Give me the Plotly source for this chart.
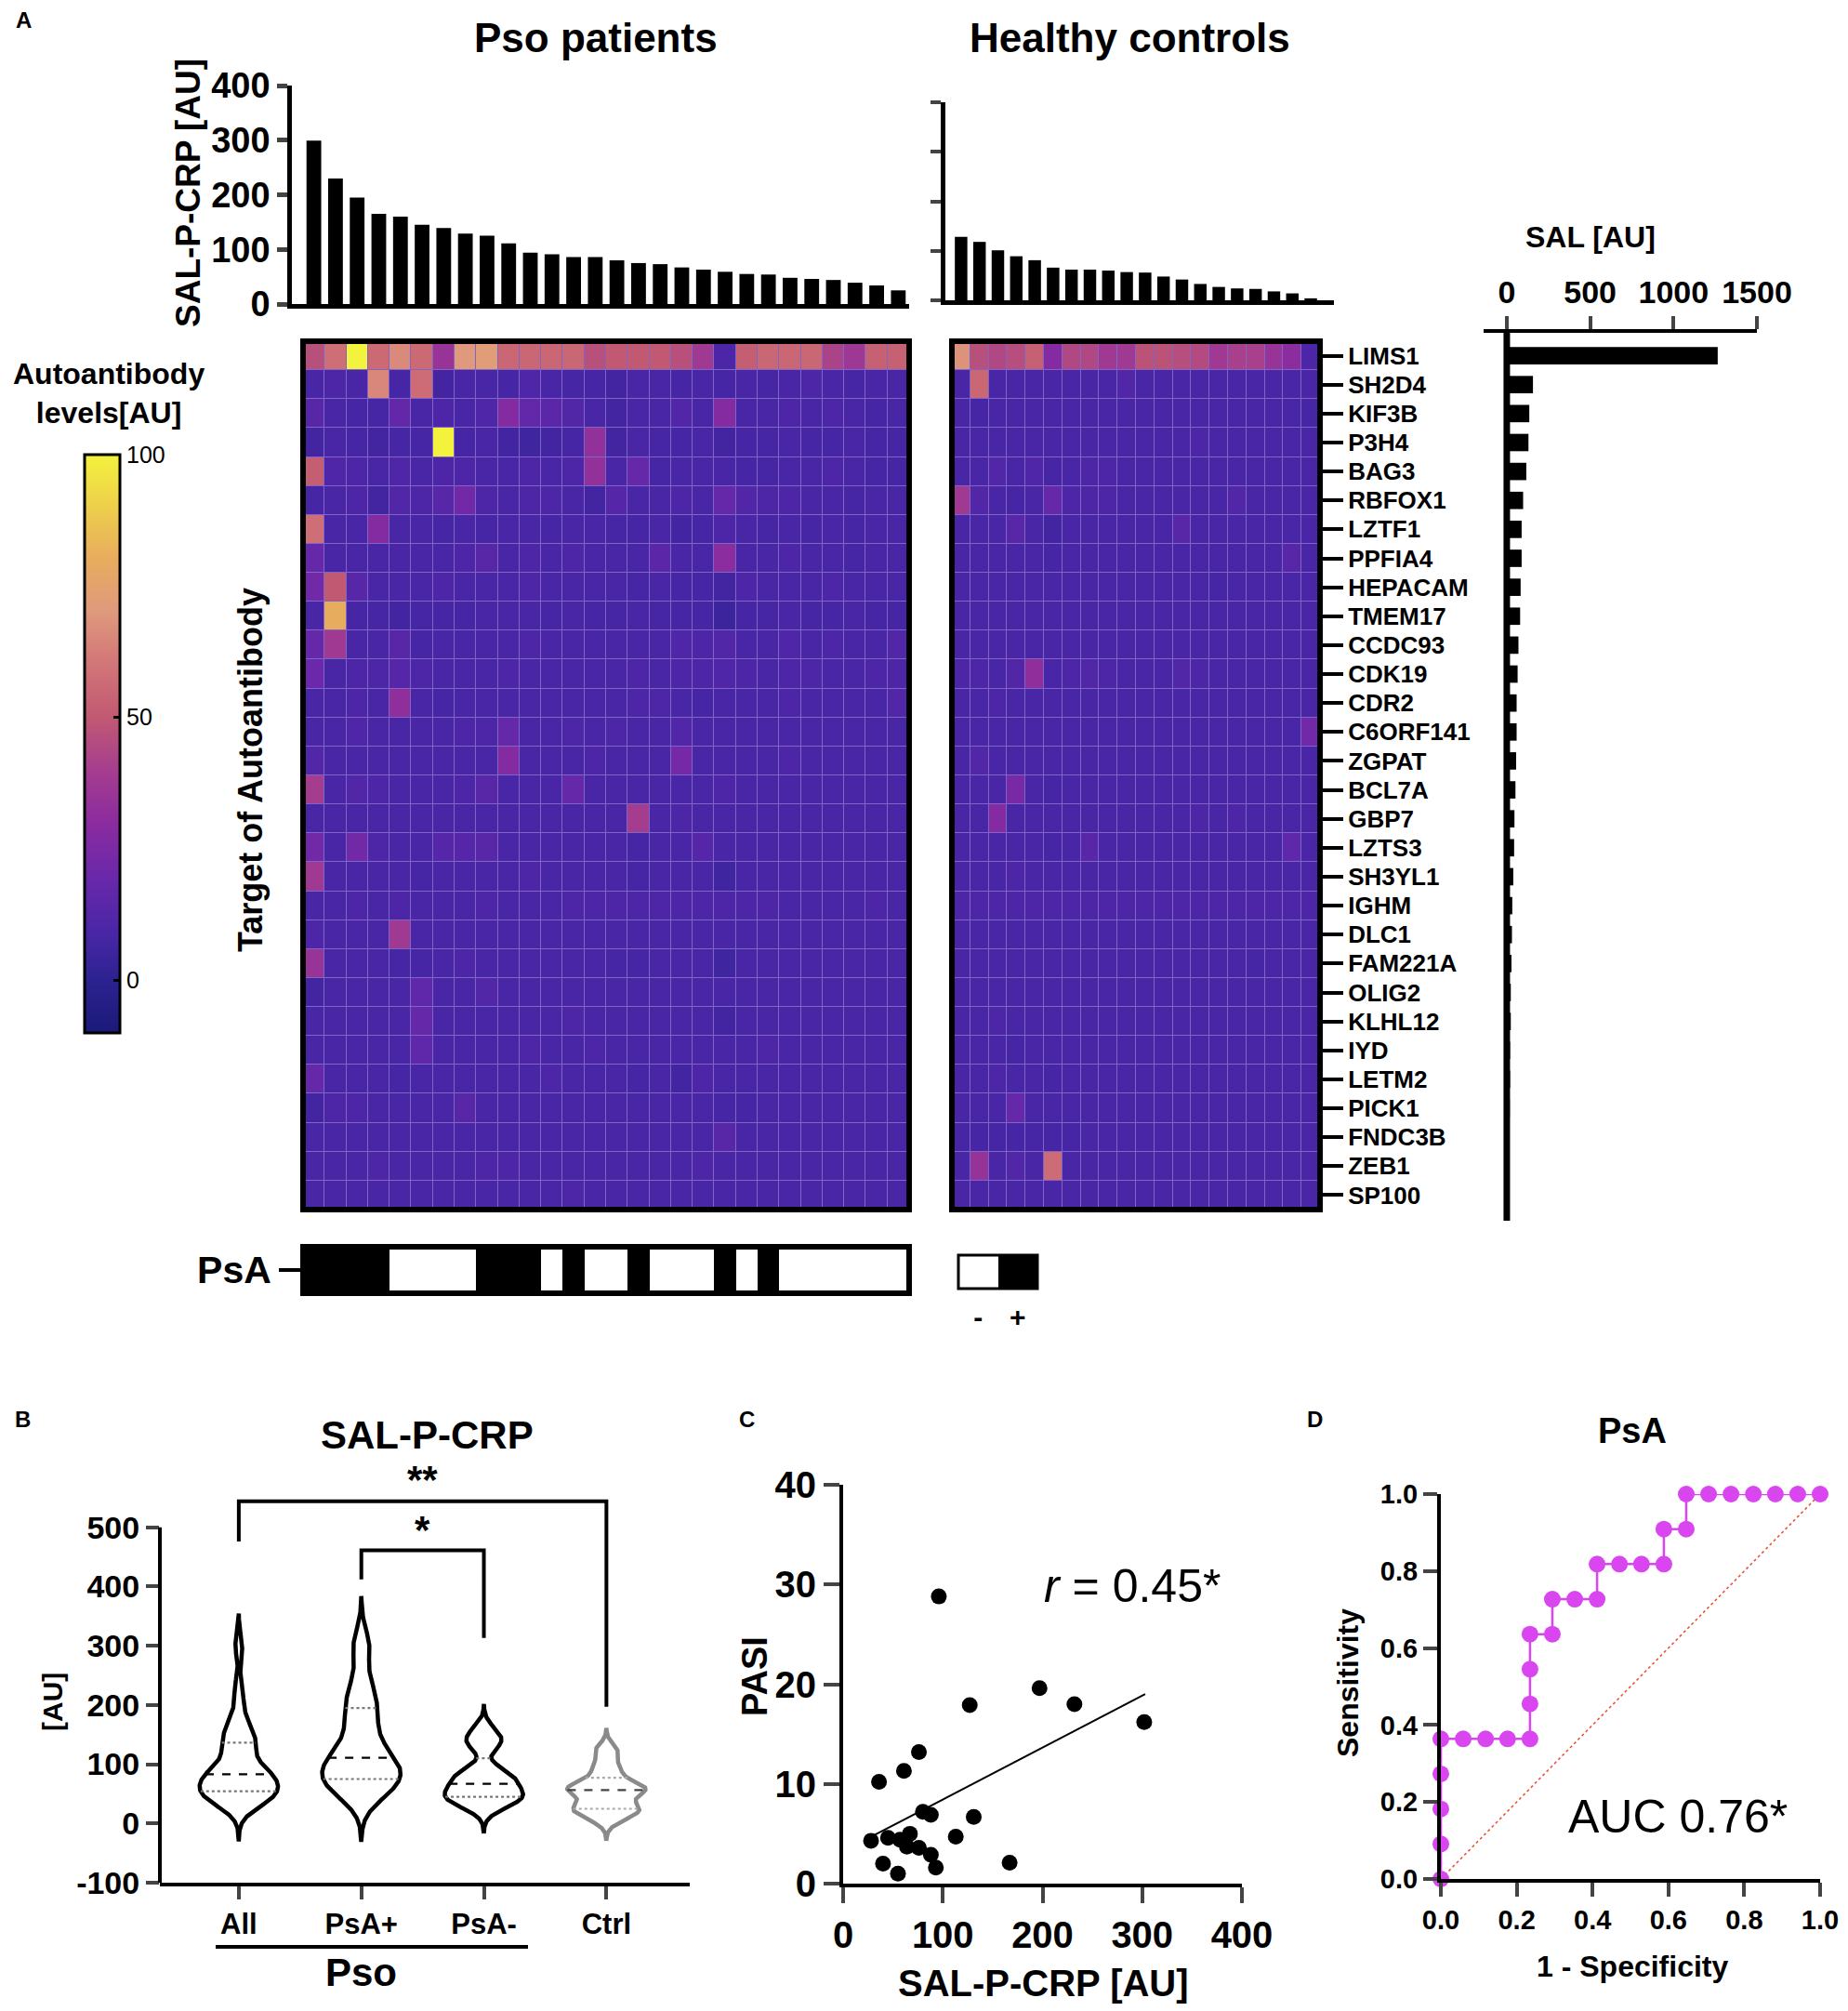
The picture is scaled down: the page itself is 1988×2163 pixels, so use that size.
import numpy as np
import plotly.graph_objects as go

# the page body keeps its default 8px margin, so the figure is drawn 16px smaller
# and every position below is given in page pixels, shifted by OFF
PAGE_W, PAGE_H = 1988, 2163
OFF = 8
W, H = PAGE_W - 2 * OFF, PAGE_H - 2 * OFF
FONT = "Liberation Sans, Arial, Helvetica, sans-serif"

genes = ["LIMS1", "SH2D4", "KIF3B", "P3H4", "BAG3", "RBFOX1", "LZTF1", "PPFIA4",
         "HEPACAM", "TMEM17", "CCDC93", "CDK19", "CDR2", "C6ORF141", "ZGPAT", "BCL7A",
         "GBP7", "LZTS3", "SH3YL1", "IGHM", "DLC1", "FAM221A", "OLIG2", "KLHL12", "IYD",
         "LETM2", "PICK1", "FNDC3B", "ZEB1", "SP100"]

# SAL-P-CRP per subject (sorted as in the heatmap columns)
pso_crp = [299, 230, 195, 165, 160, 145, 139, 129, 125, 111, 94, 91, 86, 86, 80, 75, 73,
           67, 63, 59, 55, 54, 48, 46, 44, 39, 34, 25]
ctrl_crp = [128, 118, 101, 89, 81, 66, 62, 62, 60, 57, 56, 48, 42, 33, 27, 24, 23, 18, 14, 4]
psa_status = [1, 1, 1, 1, 0, 0, 0, 0, 1, 1, 1, 0, 1, 0, 0, 1, 0, 0, 0, 1, 0, 1, 0, 0, 0, 0, 0, 0]

# summed autoantibody level per target
sal = [1265, 157, 135, 130, 117, 98, 89, 89, 83, 80, 70, 65, 59, 59, 56, 52, 46, 44, 39, 33,
       31, 28, 24, 24, 20, 20, 18, 17, 15, 15]

pso_levels = [
    [47, 58, 100, 56, 66, 56, 35, 70, 72, 55, 55, 55, 55, 47, 50, 50, 50, 47, 38, 10, 52, 55, 55, 55, 42, 37, 53, 53],
    [9, 10, 9, 65, 8, 57, 7, 9, 9, 8, 11, 9, 8, 8, 7, 9, 9, 8, 9, 8, 9, 8, 9, 10, 9, 8, 9, 9],
    [14, 9, 8, 8, 17, 9, 10, 9, 11, 28, 17, 15, 12, 9, 7, 9, 9, 12, 9, 28, 9, 9, 10, 9, 10, 9, 8, 9],
    [7, 9, 8, 7, 8, 8, 100, 8, 9, 7, 6, 7, 8, 33, 7, 9, 8, 8, 9, 7, 8, 8, 9, 8, 8, 9, 8, 8],
    [52, 11, 10, 9, 11, 9, 10, 10, 9, 9, 10, 9, 10, 33, 9, 18, 8, 9, 9, 9, 8, 8, 9, 9, 10, 9, 8, 8],
    [8, 9, 10, 7, 12, 10, 14, 22, 10, 9, 10, 10, 9, 7, 13, 9, 9, 10, 9, 18, 12, 10, 10, 9, 9, 8, 9, 9],
    [58, 9, 9, 28, 9, 9, 8, 9, 8, 9, 9, 8, 9, 9, 8, 8, 9, 7, 8, 10, 9, 8, 9, 8, 9, 8, 9, 9],
    [18, 9, 9, 9, 9, 9, 9, 10, 14, 9, 10, 9, 10, 9, 9, 9, 15, 9, 9, 30, 9, 9, 10, 9, 9, 8, 9, 9],
    [22, 50, 14, 9, 9, 9, 10, 9, 9, 9, 10, 9, 9, 9, 9, 8, 9, 8, 8, 7, 10, 9, 9, 9, 10, 9, 9, 9],
    [9, 80, 8, 8, 7, 8, 8, 8, 9, 9, 9, 8, 9, 8, 8, 9, 8, 8, 8, 5, 8, 8, 9, 8, 8, 9, 8, 8],
    [18, 38, 9, 9, 14, 8, 9, 9, 9, 9, 10, 9, 9, 9, 9, 9, 9, 11, 10, 12, 9, 9, 11, 9, 10, 9, 9, 12],
    [20, 9, 10, 10, 13, 10, 9, 9, 9, 10, 9, 9, 9, 9, 9, 10, 9, 10, 10, 11, 10, 9, 10, 10, 9, 9, 10, 10],
    [9, 9, 10, 9, 32, 9, 8, 9, 9, 9, 9, 9, 9, 9, 9, 10, 10, 9, 8, 9, 9, 9, 10, 9, 9, 9, 9, 12],
    [9, 9, 11, 9, 9, 9, 9, 10, 10, 18, 9, 9, 10, 9, 10, 9, 9, 12, 9, 9, 9, 9, 9, 9, 9, 9, 9, 9],
    [12, 9, 9, 9, 9, 9, 9, 9, 9, 28, 9, 9, 9, 10, 9, 9, 9, 23, 9, 9, 9, 9, 10, 9, 9, 9, 9, 9],
    [40, 9, 12, 10, 9, 9, 9, 10, 14, 9, 9, 9, 18, 9, 9, 9, 9, 9, 9, 10, 9, 9, 9, 9, 9, 9, 9, 9],
    [9, 9, 9, 9, 9, 9, 9, 9, 9, 9, 9, 9, 9, 9, 9, 40, 9, 10, 9, 9, 9, 9, 9, 9, 9, 9, 9, 9],
    [22, 9, 22, 10, 9, 9, 13, 13, 14, 9, 9, 9, 9, 9, 9, 8, 9, 9, 13, 9, 9, 9, 9, 9, 9, 9, 9, 9],
    [38, 9, 9, 9, 9, 8, 9, 9, 9, 9, 10, 9, 9, 9, 9, 8, 9, 9, 9, 6, 9, 9, 9, 9, 9, 9, 9, 9],
    [9, 9, 10, 9, 10, 9, 9, 9, 10, 9, 9, 9, 10, 10, 10, 10, 10, 10, 10, 10, 10, 10, 9, 9, 9, 9, 10, 9],
    [10, 9, 9, 9, 38, 9, 9, 9, 9, 9, 9, 9, 9, 9, 9, 9, 9, 9, 9, 9, 9, 9, 9, 9, 9, 9, 9, 9],
    [35, 9, 9, 9, 8, 8, 9, 10, 9, 9, 9, 9, 9, 9, 8, 8, 9, 9, 9, 6, 9, 9, 9, 9, 9, 9, 9, 9],
    [7, 9, 9, 9, 9, 16, 9, 9, 12, 9, 9, 9, 9, 9, 9, 9, 9, 9, 9, 9, 9, 9, 9, 9, 9, 9, 9, 9],
    [9, 9, 9, 9, 9, 18, 9, 9, 9, 9, 9, 9, 10, 9, 9, 9, 9, 9, 9, 7, 9, 9, 9, 9, 9, 9, 9, 9],
    [9, 9, 9, 9, 9, 16, 9, 9, 9, 9, 10, 9, 9, 10, 9, 9, 9, 9, 9, 9, 9, 10, 9, 9, 9, 9, 9, 9],
    [18, 9, 9, 9, 8, 9, 9, 9, 9, 9, 9, 10, 9, 9, 9, 8, 9, 7, 10, 9, 9, 9, 9, 9, 9, 9, 9, 9],
    [7, 10, 10, 9, 9, 9, 9, 14, 9, 9, 9, 9, 9, 9, 9, 9, 9, 9, 9, 8, 8, 9, 9, 9, 9, 9, 9, 9],
    [9, 9, 9, 9, 9, 9, 9, 9, 9, 9, 9, 9, 9, 9, 9, 9, 9, 9, 9, 14, 9, 9, 9, 9, 9, 9, 9, 9],
    [9, 9, 9, 10, 9, 9, 9, 9, 10, 10, 9, 9, 9, 9, 9, 9, 9, 9, 10, 9, 9, 9, 9, 9, 9, 9, 9, 9],
    [9, 9, 9, 9, 9, 9, 9, 9, 9, 9, 9, 9, 10, 9, 9, 9, 9, 9, 9, 9, 9, 9, 9, 9, 9, 9, 9, 9],
]

ctrl_levels = [
    [68, 47, 44, 46, 53, 28, 44, 44, 38, 38, 48, 48, 46, 45, 38, 41, 41, 35, 30, 10],
    [9, 55, 9, 9, 9, 9, 9, 9, 9, 12, 9, 9, 9, 9, 9, 9, 9, 9, 9, 9],
    [9, 8, 9, 9, 9, 9, 9, 9, 9, 9, 9, 9, 9, 9, 9, 9, 9, 9, 9, 8],
    [9, 9, 9, 9, 9, 9, 9, 9, 9, 9, 9, 9, 9, 10, 9, 9, 9, 9, 9, 9],
    [9, 9, 12, 9, 11, 8, 9, 10, 10, 9, 9, 9, 9, 9, 9, 9, 9, 9, 9, 9],
    [38, 12, 9, 8, 9, 18, 10, 10, 10, 9, 9, 9, 9, 9, 9, 12, 9, 9, 9, 9],
    [9, 9, 9, 14, 9, 7, 9, 9, 9, 9, 9, 9, 14, 9, 9, 9, 9, 9, 9, 9],
    [9, 9, 9, 9, 9, 8, 9, 9, 9, 9, 9, 9, 9, 9, 9, 9, 9, 9, 14, 9],
    [9, 9, 9, 9, 9, 9, 9, 9, 9, 9, 9, 9, 9, 9, 8, 9, 9, 9, 9, 9],
    [9, 9, 9, 9, 9, 9, 9, 9, 9, 9, 9, 9, 9, 9, 9, 9, 9, 9, 9, 9],
    [9, 9, 9, 9, 9, 9, 9, 9, 9, 9, 9, 9, 9, 9, 9, 9, 9, 9, 9, 9],
    [10, 10, 9, 12, 32, 9, 10, 12, 10, 9, 9, 9, 12, 10, 9, 9, 9, 9, 9, 9],
    [9, 9, 10, 9, 9, 9, 9, 9, 9, 9, 9, 9, 9, 9, 9, 9, 9, 9, 9, 9],
    [9, 9, 9, 9, 9, 9, 9, 9, 9, 9, 9, 9, 9, 9, 9, 9, 9, 9, 9, 22],
    [9, 12, 9, 9, 9, 9, 9, 9, 9, 9, 9, 9, 9, 9, 9, 9, 9, 9, 9, 9],
    [9, 9, 9, 24, 9, 8, 9, 9, 9, 9, 9, 9, 9, 9, 9, 9, 9, 9, 9, 9],
    [9, 9, 28, 9, 9, 9, 9, 9, 9, 9, 9, 9, 9, 10, 9, 10, 9, 9, 9, 9],
    [9, 9, 9, 9, 9, 8, 9, 14, 9, 9, 9, 9, 9, 9, 9, 9, 9, 9, 16, 9],
    [9, 9, 9, 10, 9, 9, 9, 9, 9, 9, 9, 9, 9, 9, 9, 9, 9, 9, 9, 9],
    [10, 10, 10, 10, 10, 10, 10, 10, 10, 10, 10, 10, 10, 10, 10, 10, 10, 10, 10, 10],
    [9, 9, 9, 9, 9, 9, 9, 9, 9, 9, 9, 9, 9, 9, 9, 9, 9, 9, 9, 9],
    [9, 9, 9, 9, 9, 9, 9, 9, 9, 9, 9, 9, 9, 9, 9, 9, 8, 9, 9, 9],
    [9, 9, 9, 9, 9, 9, 9, 9, 9, 9, 9, 9, 9, 9, 9, 9, 9, 9, 9, 9],
    [9, 9, 10, 9, 9, 9, 9, 9, 9, 9, 9, 9, 9, 9, 9, 9, 9, 9, 9, 9],
    [9, 9, 9, 8, 9, 9, 9, 9, 9, 9, 9, 9, 9, 9, 9, 9, 9, 9, 9, 9],
    [9, 9, 10, 9, 9, 8, 9, 9, 9, 9, 9, 9, 9, 9, 9, 9, 9, 9, 9, 9],
    [9, 9, 9, 18, 9, 9, 9, 9, 9, 9, 9, 9, 9, 9, 9, 9, 9, 9, 9, 9],
    [8, 8, 8, 8, 8, 8, 8, 9, 9, 9, 9, 9, 9, 9, 9, 9, 9, 9, 9, 9],
    [9, 34, 9, 12, 9, 57, 9, 9, 9, 9, 9, 9, 9, 9, 9, 9, 9, 9, 9, 9],
    [9, 9, 9, 9, 9, 9, 9, 9, 9, 9, 9, 9, 9, 9, 9, 9, 9, 9, 9, 9],
]

# panel C
pasi_crp = [96, 36, 61, 76, 127, 197, 232, 302, 80, 88, 131, 28, 45, 57, 67, 64, 76, 88, 93, 113, 40, 55, 167]
pasi = [28.8, 10.2, 11.3, 13.2, 17.9, 19.6, 18.0, 16.2, 7.2, 6.9, 6.7, 4.3, 4.6, 4.4, 5.0, 3.7, 3.6,
        2.9, 1.6, 4.7, 2.0, 1.0, 2.1]
fit_crp = [32, 303]
fit_pasi = [4.9, 19.0]

# panel D
roc_fpr = [0, 0, 0, 0, 0, 0.059, 0.118, 0.176, 0.235, 0.235, 0.235, 0.235, 0.294, 0.294, 0.353,
           0.412, 0.412, 0.471, 0.529, 0.588, 0.588, 0.647, 0.647, 0.706, 0.765, 0.824, 0.882, 0.941, 1.0]
roc_tpr = [0, 0.091, 0.182, 0.273, 0.364, 0.364, 0.364, 0.364, 0.364, 0.455, 0.545, 0.636, 0.636,
           0.727, 0.727, 0.727, 0.818, 0.818, 0.818, 0.818, 0.909, 0.909, 1.0, 1, 1, 1, 1, 1, 1]

# panel B groups
psa_pos = [v for v, s in zip(pso_crp, psa_status) if s == 1]
psa_neg = [v for v, s in zip(pso_crp, psa_status) if s == 0]
groups = [("All", pso_crp, "black"), ("PsA+", psa_pos, "black"),
          ("PsA-", psa_neg, "black"), ("Ctrl", ctrl_crp, "#8a8a8a")]
bracket_pairs = [(0, 3, 476, 544, 197, "**", 580), (1, 2, 412, 461, 313, "*", 495)]


def px_x(a):
    return (a - OFF) / W


def px_y(a):
    return 1 - (a - OFF) / H


def xd(a, b):
    return [px_x(a), px_x(b)]


def yd(top, bottom):
    return [px_y(bottom), px_y(top)]


def bfont(size, color="black"):
    return dict(family=FONT, size=size, color=color, weight="bold")


heat_scale = [
    [0.00, "#1a1a78"], [0.09, "#2c2290"], [0.17, "#4826a6"], [0.27, "#6a28aa"],
    [0.36, "#8a2ba0"], [0.45, "#a43c90"], [0.55, "#c25a72"], [0.64, "#d27678"],
    [0.73, "#df9a7c"], [0.82, "#e8ac5e"], [0.91, "#eecf4c"], [1.00, "#f3f23c"],
]

fig = go.Figure()

# --- panel A: top bars
fig.add_trace(go.Bar(x=list(range(len(pso_crp))), y=pso_crp, marker_color="black",
                     width=0.68, xaxis="x", yaxis="y"))
fig.add_trace(go.Bar(x=list(range(len(ctrl_crp))), y=ctrl_crp, marker_color="black",
                     width=0.68, xaxis="x2", yaxis="y2"))

# --- heatmaps
rows = list(range(len(genes)))
fig.add_trace(go.Heatmap(z=pso_levels, x=list(range(28)), y=rows, coloraxis="coloraxis",
                         xgap=1, ygap=1, xaxis="x3", yaxis="y3", hoverinfo="skip"))
fig.add_trace(go.Heatmap(z=ctrl_levels, x=list(range(20)), y=rows, coloraxis="coloraxis",
                         xgap=1, ygap=1, xaxis="x4", yaxis="y4", hoverinfo="skip"))

# --- SAL bars
fig.add_trace(go.Bar(x=sal, y=rows, orientation="h", marker_color="black", width=0.6,
                     xaxis="x5", yaxis="y5"))

# --- PsA strip and its key
bw_scale = [[0, "white"], [1, "black"]]
fig.add_trace(go.Heatmap(z=[psa_status], x=list(range(28)), y=[0], colorscale=bw_scale,
                         zmin=0, zmax=1, showscale=False, xaxis="x6", yaxis="y6", hoverinfo="skip"))
fig.add_trace(go.Heatmap(z=[[0, 1]], x=[0, 1], y=[0], colorscale=bw_scale, zmin=0, zmax=1,
                         showscale=False, xaxis="x7", yaxis="y7", hoverinfo="skip"))

# --- panel B: violins (gaussian kde, narrower than silverman like the prism output)
for i, (name, vals, col) in enumerate(groups):
    v = np.array(vals, float)
    q1, med, q3 = np.percentile(v, [25, 50, 75], method="weibull")
    bw = 0.65 * 0.9 * min(v.std(ddof=1), (q3 - q1) / 1.34) * len(v) ** -0.2
    ys = np.linspace(v.min() - 3 * bw, v.max() + 3 * bw, 400)
    dens = np.exp(-0.5 * ((ys[:, None] - v[None, :]) / bw) ** 2).sum(axis=1)
    half = dens / dens.max() * 0.32
    vx = np.concatenate([i - half, (i + half)[::-1], [i - half[0]]])
    vy = np.concatenate([ys, ys[::-1], [ys[0]]])
    fig.add_trace(go.Scatter(x=vx, y=vy, mode="lines", line=dict(color=col, width=4.5),
                             xaxis="x8", yaxis="y8", hoverinfo="skip"))
    for q, dash, qcol in [(q1, "dot", "#777777" if i < 3 else "#aaaaaa"),
                          (med, "dash", "black" if i < 3 else "#444444"),
                          (q3, "dot", "#777777" if i < 3 else "#aaaaaa")]:
        w = np.interp(q, ys, half)
        fig.add_trace(go.Scatter(x=[i - w, i + w], y=[q, q], mode="lines",
                                 line=dict(color=qcol, width=2.2, dash=dash),
                                 xaxis="x8", yaxis="y8", hoverinfo="skip"))

for a, b, ya, top, yb, star, ys_ in bracket_pairs:
    fig.add_trace(go.Scatter(x=[a, a, b, b], y=[ya, top, top, yb], mode="lines",
                             line=dict(color="black", width=4), xaxis="x8", yaxis="y8",
                             hoverinfo="skip"))

# --- panel C
fig.add_trace(go.Scatter(x=fit_crp, y=fit_pasi, mode="lines", line=dict(color="black", width=2),
                         xaxis="x9", yaxis="y9"))
fig.add_trace(go.Scatter(x=pasi_crp, y=pasi, mode="markers", marker=dict(color="black", size=17),
                         xaxis="x9", yaxis="y9", cliponaxis=False))

# --- panel D
fig.add_trace(go.Scatter(x=[0, 1], y=[0, 1], mode="lines",
                         line=dict(color="#e8553a", width=1.6, dash="dot"),
                         xaxis="x10", yaxis="y10"))
fig.add_trace(go.Scatter(x=roc_fpr, y=roc_tpr, mode="lines+markers",
                         line=dict(color="#d946ef", width=2.5),
                         marker=dict(color="#d946ef", size=18),
                         xaxis="x10", yaxis="y10", cliponaxis=False))

hidden = dict(visible=False, showgrid=False, zeroline=False, automargin=False)
axis_line = dict(showline=True, linecolor="black", showgrid=False, zeroline=False, automargin=False)
plain = dict(showgrid=False, zeroline=False, showline=False, automargin=False)

layout = dict(
    template="none",
    width=W, height=H, margin=dict(l=0, r=0, t=0, b=0, pad=0, autoexpand=False),
    paper_bgcolor="white", plot_bgcolor="white", showlegend=False,
    font=dict(family=FONT, color="black"),
    coloraxis=dict(
        colorscale=heat_scale, cmin=-10, cmax=100,
        colorbar=dict(x=px_x(91), xanchor="left", y=px_y(489), yanchor="top",
                      len=622, lenmode="pixels", thickness=38, thicknessmode="pixels",
                      xpad=0, ypad=0, outlinewidth=3, outlinecolor="black", borderwidth=0,
                      tickvals=[0, 50, 100], ticks="inside", ticklen=8, tickwidth=3,
                      tickcolor="black", tickfont=dict(family=FONT, size=25, color="black")),
    ),
    # top bars, patients
    xaxis=dict(domain=xd(314, 978), range=[-1.015, 27.5], anchor="y", showticklabels=False,
               ticks="", linewidth=4.5, **axis_line),
    yaxis=dict(domain=yd(92, 327), range=[0, 400], anchor="x", tickvals=[0, 100, 200, 300, 400],
               ticks="outside", ticklen=11, tickwidth=4.5, linewidth=4.5, tickfont=bfont(38),
               **axis_line),
    # top bars, controls
    xaxis2=dict(domain=xd(1017, 1435), range=[-0.854, 20.26], anchor="y2", showticklabels=False,
                ticks="", linewidth=4.5, **axis_line),
    yaxis2=dict(domain=yd(110, 323), range=[0, 400], anchor="x2", tickvals=[0, 100, 200, 300, 400],
                ticks="outside", ticklen=11, tickwidth=4, linewidth=4.5, showticklabels=False,
                **axis_line),
    # heatmaps
    xaxis3=dict(domain=xd(326, 978), range=[-0.5, 27.5], anchor="y3", **hidden),
    yaxis3=dict(domain=yd(367, 1301), range=[29.5, -0.5], anchor="x3", **hidden),
    xaxis4=dict(domain=xd(1024, 1420), range=[-0.5, 19.5], anchor="y4", **hidden),
    yaxis4=dict(domain=yd(367, 1301), range=[29.5, -0.5], anchor="x4", side="right",
                tickvals=rows, ticktext=genes, ticks="outside", ticklen=24, tickwidth=4,
                tickcolor="black", tickfont=bfont(26), **plain),
    # SAL bars
    xaxis5=dict(domain=xd(1596, 1890), range=[-139, 1500], anchor="free", position=px_y(356),
                side="top", tickvals=[0, 500, 1000, 1500], ticks="outside", ticklen=14,
                tickwidth=4, linewidth=4, tickfont=bfont(34), **axis_line),
    yaxis5=dict(domain=yd(367, 1301), range=[29.5, -0.5], anchor="x5", **hidden),
    # PsA strip
    xaxis6=dict(domain=xd(326, 978), range=[-0.5, 27.5], anchor="y6", **hidden),
    yaxis6=dict(domain=yd(1341, 1391), range=[-0.5, 0.5], anchor="x6", tickvals=[0],
                ticktext=["PsA"], ticks="outside", ticklen=25, tickwidth=4, tickcolor="black",
                tickfont=bfont(41), **plain),
    xaxis7=dict(domain=xd(1031, 1116), range=[-0.5, 1.5], anchor="y7", tickvals=[0, 1],
                ticktext=["-", "+"], ticks="", tickfont=bfont(30), ticklabelstandoff=10,
                **plain),
    yaxis7=dict(domain=yd(1350, 1386), range=[-0.5, 0.5], anchor="x7", **hidden),
    # panel B
    xaxis8=dict(domain=xd(172, 742), range=[-0.644, 3.68], anchor="y8", tickvals=[0, 1, 2, 3],
                ticktext=["All", "PsA+", "PsA-", "Ctrl"], ticks="outside", ticklen=14,
                tickwidth=4, linewidth=4, tickfont=bfont(31), **axis_line),
    yaxis8=dict(domain=yd(1579, 2025), range=[-100, 600], anchor="x8",
                tickvals=[-100, 0, 100, 200, 300, 400, 500],
                ticktext=["-100", "0", "100", "200", "300", "400", "500"], ticks="outside",
                ticklen=14, tickwidth=4, tickfont=bfont(34), **plain),
    # panel C
    xaxis9=dict(domain=xd(907, 1336), range=[0, 400], anchor="y9", tickvals=[0, 100, 200, 300, 400],
                ticks="outside", ticklen=17, tickwidth=4, linewidth=4, tickfont=bfont(40),
                **axis_line),
    yaxis9=dict(domain=yd(1597, 2026), range=[0, 40], anchor="x9", tickvals=[0, 10, 20, 30, 40],
                ticks="outside", ticklen=17, tickwidth=4, linewidth=4, tickfont=bfont(40),
                **axis_line),
    # panel D
    xaxis10=dict(domain=xd(1550, 1958), range=[0, 1], anchor="y10",
                 tickvals=[0, 0.2, 0.4, 0.6, 0.8, 1.0], tickformat=".1f", ticks="outside",
                 ticklen=15, tickwidth=4, linewidth=4, tickfont=bfont(29),
                 ticklabeloverflow="allow", **axis_line),
    yaxis10=dict(domain=yd(1607, 2021), range=[0, 1], anchor="x10",
                 tickvals=[0, 0.2, 0.4, 0.6, 0.8, 1.0], tickformat=".1f", ticks="outside",
                 ticklen=15, tickwidth=4, linewidth=4, tickfont=bfont(29), **axis_line),
)
fig.update_layout(**layout)

shapes = []
for ax in ["x3", "x4"]:
    yax = "y3" if ax == "x3" else "y4"
    shapes.append(dict(type="rect", xref=f"{ax} domain", yref=f"{yax} domain", x0=0, x1=1, y0=0,
                       y1=1, fillcolor="#7f66c6", line=dict(width=0), layer="below"))
    shapes.append(dict(type="rect", xref=f"{ax} domain", yref=f"{yax} domain", x0=0, x1=1, y0=0,
                       y1=1, line=dict(color="black", width=6)))
shapes.append(dict(type="rect", xref="x6 domain", yref="y6 domain", x0=0, x1=1, y0=0, y1=1,
                   line=dict(color="black", width=6)))
shapes.append(dict(type="rect", xref="x7 domain", yref="y7 domain", x0=0, x1=1, y0=0, y1=1,
                   line=dict(color="black", width=3)))
# SAL vertical axis
shapes.append(dict(type="line", xref="x5", yref="paper", x0=0, x1=0, y0=px_y(1313),
                   y1=px_y(356), line=dict(color="black", width=7)))
# panel B y axis line
shapes.append(dict(type="line", xref="x8 domain", yref="y8", x0=0, x1=0, y0=-100, y1=500,
                   line=dict(color="black", width=4)))
# Pso underline
shapes.append(dict(type="line", xref="paper", yref="paper", x0=px_x(232), x1=px_x(568),
                   y0=px_y(2094), y1=px_y(2094), line=dict(color="black", width=4)))
fig.update_layout(shapes=shapes)


def ann(text, x, y, size, bold=True, angle=0, xanchor="center"):
    f = dict(family=FONT, size=size, color="black", weight="bold" if bold else "normal")
    return dict(text=text, x=px_x(x), y=px_y(y), xref="paper", yref="paper", showarrow=False,
                font=f, textangle=angle, xanchor=xanchor, yanchor="middle")


annotations = [
    ann("A", 15, 22, 24, xanchor="left"),
    ann("Pso patients", 641, 41, 44),
    ann("Healthy controls", 1215, 41, 44),
    ann("SAL-P-CRP [AU]", 203, 208, 37, angle=-90),
    ann("SAL [AU]", 1711, 255, 32),
    ann("Autoantibody<br>levels[AU]", 117, 423, 32),
    ann("Target of Autoantibody", 269, 828, 36, angle=-90),
    ann("B", 14, 1526, 24, xanchor="left"),
    ann("SAL-P-CRP", 459, 1543, 42),
    ann("[AU]", 56, 1831, 30, angle=-90),
    ann("Pso", 388, 2121, 42),
    ann("C", 793, 1526, 24, xanchor="left"),
    ann("PASI", 812, 1803, 38, angle=-90),
    ann("SAL-P-CRP [AU]", 1122, 2133, 40),
    ann("<i>r</i> = 0.45*", 1218, 1706, 50, bold=False),
    ann("D", 1404, 1526, 24, xanchor="left"),
    ann("PsA", 1756, 1539, 38),
    ann("Sensitivity", 1450, 1810, 32, angle=-90),
    ann("1 - Specificity", 1756, 2115, 32),
    ann("AUC 0.76*", 1805, 1954, 50, bold=False),
]
for a, b, ya, top, yb, star, ystar in bracket_pairs:
    annotations.append(dict(text=star, x=(a + b) / 2, y=ystar, xref="x8", yref="y8",
                            showarrow=False, font=bfont(42), yanchor="middle"))
fig.update_layout(annotations=annotations)

fig.write_html("out.html")
